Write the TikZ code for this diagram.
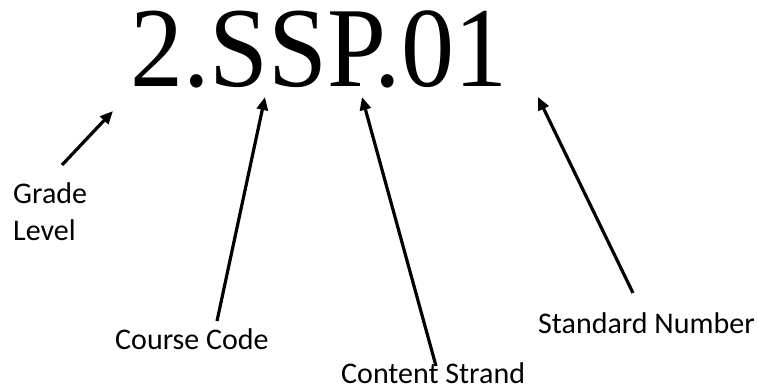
\documentclass[tikz,border=0pt]{standalone}
\usepackage{fontspec}
\setmainfont{Liberation Serif}
\newfontfamily\labelfont{Carlito}
\usetikzlibrary{arrows.meta}
\begin{document}
\begin{tikzpicture}[x=1pt,y=-1pt,
  lbl/.style={font=\labelfont\fontsize{30}{37}\selectfont, inner sep=0pt, anchor=base west, align=left},
  pointer/.style={line width=3.2pt, -{Triangle[length=13pt,width=11pt]}}]
\useasboundingbox (0,0) rectangle (757,390);
% the standard code itself
\node[inner sep=0pt, anchor=base west, xscale=0.93, font=\fontsize{114}{114}\selectfont] (code) at (130,87) {2.SSP.01};
% labels for each part of the code
\node[lbl, anchor=north west] (grade) at (13,182) {Grade\\Level};
\node[lbl] (course) at (115,349) {Course Code};
\node[lbl] (strand) at (341,383) {Content Strand};
\node[lbl] (number) at (538,333) {Standard Number};
% start and end points of the pointers
\coordinate (gl0) at (62,165);  \coordinate (gl1) at (113,111);
\coordinate (cc0) at (217,321); \coordinate (cc1) at (265,97);
\coordinate (cs0) at (436,366); \coordinate (cs1) at (362,97);
\coordinate (sn0) at (633,293); \coordinate (sn1) at (538,97);
\draw[pointer] (gl0) -- (gl1);
\draw[pointer] (cc0) -- (cc1);
\draw[pointer] (cs0) -- (cs1);
\draw[pointer] (sn0) -- (sn1);
\end{tikzpicture}
\end{document}
